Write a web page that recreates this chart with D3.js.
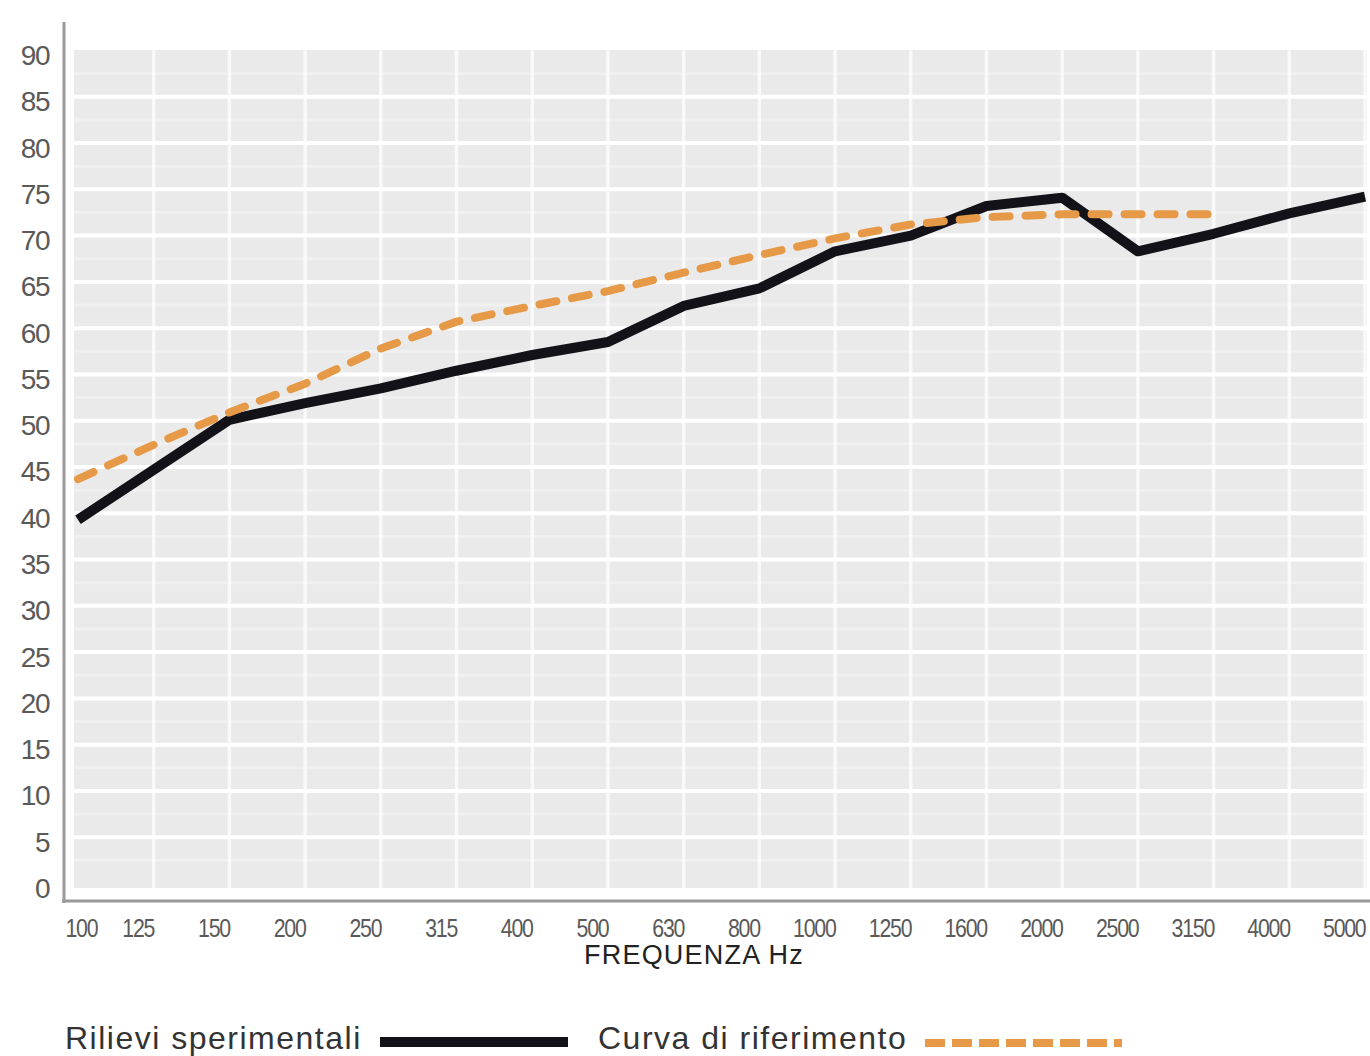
<!DOCTYPE html>
<html>
<head>
<meta charset="utf-8">
<script src="https://cdn.jsdelivr.net/npm/d3@7"></script>
<style>
  html, body { margin: 0; padding: 0; background: #ffffff; }
  svg { display: block; }
</style>
</head>
<body>
<svg id="chart" width="1370" height="1056"></svg>
<script>
// ---- data ----
const frequencies = ["100","125","150","200","250","315","400","500","630","800","1000","1250","1600","2000","2500","3150","4000","5000"];
const measured = [39.3, 44.7, 50.1, 51.9, 53.5, 55.4, 57.1, 58.5, 62.4, 64.3, 68.3, 70.0, 73.2, 74.1, 68.3, 70.2, 72.4, 74.2];
const referenceFreqs = ["100","125","150","200","250","315","400","500","630","800","1000","1250","1600","2000","2500","3150"];
const reference = [43.7, 47.4, 50.9, 54.0, 57.8, 60.7, 62.4, 64.0, 66.0, 67.9, 69.7, 71.2, 72.0, 72.3, 72.3, 72.3];
const yTickValues = [0,5,10,15,20,25,30,35,40,45,50,55,60,65,70,75,80,85,90];
const xTitle = "FREQUENZA Hz";
const legendMeasured = "Rilievi sperimentali";
const legendReference = "Curva di riferimento";

// ---- layout ----
const svg = d3.select("#chart");
const plotLeft = 74, plotRight = 1367, plotTop = 50, plotBottom = 888;
const x = d3.scalePoint().domain(frequencies).range([78, 1365]);
const y = d3.scaleLinear().domain([0, 90]).range([883.5, 50.5]);
const font = "'Liberation Sans', Arial, sans-serif";

// plot background
svg.append("rect")
  .attr("x", plotLeft).attr("y", plotTop)
  .attr("width", plotRight - plotLeft).attr("height", plotBottom - plotTop)
  .attr("fill", "#eaeaea");

const grid = svg.append("g");
// minor horizontal grid
grid.selectAll("line.hminor")
  .data(yTickValues.slice(0, -1))
  .join("line")
  .attr("x1", plotLeft).attr("x2", plotRight)
  .attr("y1", d => y(d + 2.5)).attr("y2", d => y(d + 2.5))
  .attr("stroke", "#ffffff").attr("stroke-opacity", 0.3).attr("stroke-width", 3);

// vertical grid
grid.selectAll("line.v")
  .data(frequencies.slice(1))
  .join("line")
  .attr("x1", d => x(d)).attr("x2", d => x(d))
  .attr("y1", plotTop).attr("y2", plotBottom)
  .attr("stroke", "#ffffff").attr("stroke-opacity", 0.7).attr("stroke-width", 3.5);

// major horizontal grid
grid.selectAll("line.h")
  .data(yTickValues.filter(v => v > 0 && v < 90))
  .join("line")
  .attr("x1", plotLeft).attr("x2", plotRight)
  .attr("y1", d => y(d)).attr("y2", d => y(d))
  .attr("stroke", "#ffffff").attr("stroke-width", 4);

// axis lines
svg.append("line").attr("x1", 64).attr("x2", 64).attr("y1", 22).attr("y2", 903)
  .attr("stroke", "#9a9a9a").attr("stroke-width", 3);
svg.append("line").attr("x1", 62).attr("x2", 1370).attr("y1", 901).attr("y2", 901)
  .attr("stroke", "#9a9a9a").attr("stroke-width", 3);

// y axis labels
const yAxis = svg.append("g")
  .attr("transform", "translate(49,5)")
  .call(d3.axisLeft(y).tickValues(yTickValues).tickSize(0).tickPadding(0));
yAxis.select(".domain").remove();
yAxis.selectAll("text")
  .attr("font-family", font)
  .attr("font-size", 28)
  .attr("fill", "#5a5a5a")
  .attr("letter-spacing", -1.5);

// x axis labels
const xAxis = svg.append("g")
  .attr("transform", "translate(0,928)")
  .call(d3.axisBottom(x).tickSize(0).tickPadding(0));
xAxis.select(".domain").remove();
xAxis.selectAll("text")
  .attr("y", 0).attr("dy", "0.36em")
  .attr("text-anchor", "end")
  .attr("font-family", font)
  .attr("font-size", 26)
  .attr("fill", "#5a5a5a")
  .attr("letter-spacing", -1.5)
  .attr("transform", "scale(0.82,1)");
xAxis.selectAll("text").filter((d, i) => i === 0)
  .attr("text-anchor", "start")
  .attr("x", -16);

// x title
svg.append("text")
  .attr("x", 694).attr("y", 955).attr("dy", "0.35em")
  .attr("text-anchor", "middle")
  .attr("font-family", font)
  .attr("font-size", 27)
  .attr("letter-spacing", 1.2)
  .attr("fill", "#222222")
  .text(xTitle);

// lines
const lineGen = d3.line().x(d => x(d[0])).y(d => y(d[1]));
svg.append("path")
  .datum(frequencies.map((f, i) => [f, measured[i]]))
  .attr("d", lineGen)
  .attr("fill", "none")
  .attr("stroke", "#121218")
  .attr("stroke-width", 10)
  .attr("stroke-linejoin", "round");
svg.append("path")
  .datum(referenceFreqs.map((f, i) => [f, reference[i]]))
  .attr("d", lineGen)
  .attr("fill", "none")
  .attr("stroke", "#e69a48")
  .attr("stroke-width", 8)
  .attr("stroke-linecap", "round")
  .attr("stroke-dasharray", "17,16");

// legend
svg.append("text")
  .attr("x", 65).attr("y", 1049)
  .attr("font-family", font).attr("font-size", 32).attr("letter-spacing", 1.5)
  .attr("fill", "#333333").text(legendMeasured);
svg.append("line")
  .attr("x1", 380).attr("x2", 568).attr("y1", 1042).attr("y2", 1042)
  .attr("stroke", "#121218").attr("stroke-width", 10);
svg.append("text")
  .attr("x", 598).attr("y", 1049)
  .attr("font-family", font).attr("font-size", 32).attr("letter-spacing", 1.5)
  .attr("fill", "#333333").text(legendReference);
svg.append("line")
  .attr("x1", 925).attr("x2", 1122).attr("y1", 1043).attr("y2", 1043)
  .attr("stroke", "#e69a48").attr("stroke-width", 8)
  .attr("stroke-dasharray", "20,7");
</script>
</body>
</html>
